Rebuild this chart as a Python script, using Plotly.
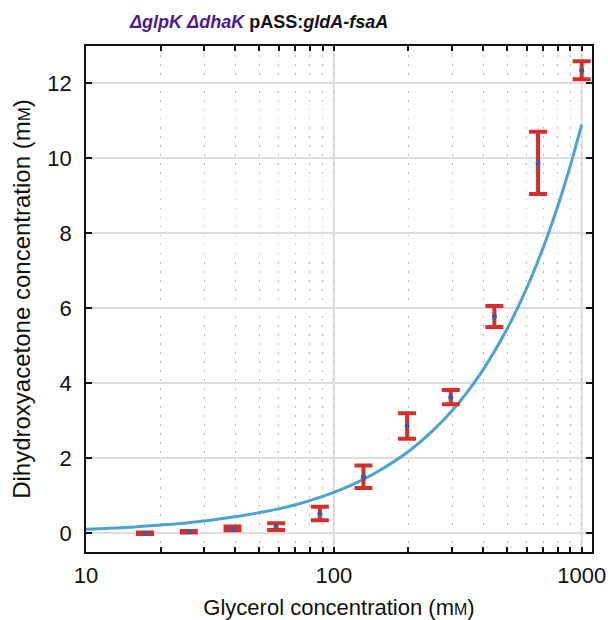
import plotly.graph_objects as go

# Measured data (glycerol mM -> DHA mM)
glycerol = [17.3, 26.0, 39.0, 58.5, 87.8, 131.7, 197.5, 296.3, 444.4, 666.7, 1000.0]
dha_mean = [0.00, 0.04, 0.13, 0.18, 0.53, 1.51, 2.86, 3.63, 5.78, 9.88, 12.35]
dha_err = [0.02, 0.02, 0.05, 0.09, 0.18, 0.30, 0.34, 0.19, 0.28, 0.83, 0.24]

# Model curve
curve_x = [10, 12, 15, 20, 25, 30, 40, 50, 60, 70, 80, 100, 120, 150, 200, 250,
           300, 350, 400, 500, 600, 700, 800, 900, 1000]
curve_y = [0.11, 0.13, 0.16, 0.22, 0.27, 0.33, 0.44, 0.55, 0.65, 0.76, 0.87, 1.09,
           1.31, 1.64, 2.18, 2.73, 3.27, 3.82, 4.36, 5.45, 6.54, 7.63, 8.72, 9.81, 10.9]

x_tickvals = [10, 20, 30, 40, 50, 60, 70, 80, 90, 100, 200, 300, 400, 500, 600,
              700, 800, 900, 1000]
x_major = [10, 100, 1000]
y_tickvals = [0, 2, 4, 6, 8, 10, 12]

FONT = "Liberation Sans, Arial, sans-serif"

fig = go.Figure()

fig.add_trace(go.Scatter(
    x=curve_x, y=curve_y, mode="lines",
    line=dict(color="#4CA3D2", width=3, shape="spline"),
    hoverinfo="skip", showlegend=False,
))

fig.add_trace(go.Scatter(
    x=glycerol, y=dha_mean, mode="markers",
    marker=dict(color="#3B5BA5", size=5),
    error_y=dict(type="data", array=dha_err, visible=True,
                 color="#D32F2F", thickness=4, width=9),
    hoverinfo="skip", showlegend=False,
))

# solid gridlines at major decades
for v in x_major[1:]:
    fig.add_shape(type="line", xref="x", yref="paper", x0=v, x1=v, y0=0, y1=1,
                  line=dict(color="#dddddd", width=2), layer="below")

x_ticktext = [str(v) if v in x_major else "" for v in x_tickvals]

fig.update_layout(
    width=608, height=620,
    margin=dict(l=86, r=16, t=46, b=68),
    paper_bgcolor="white", plot_bgcolor="white",
    font=dict(family=FONT, size=22, color="#111111"),
    xaxis=dict(
        type="log", range=[1.0, 3.0416], automargin=False,
        tickvals=x_tickvals, ticktext=x_ticktext,
        ticks="inside", ticklen=5, tickwidth=1.5, tickcolor="#111111",
        showline=True, linecolor="#111111", linewidth=1.5, mirror="allticks",
        showgrid=True, gridcolor="#b8b8b8", gridwidth=1, griddash="1.5px,7.5px",
        zeroline=False, ticklabelstandoff=3,
        title=dict(text="Glycerol concentration (m<span style='font-size:16px'>M</span>)",
                   font=dict(size=22), standoff=14),
    ),
    yaxis=dict(
        range=[-0.5, 13.0], tickvals=y_tickvals, automargin=False,
        ticks="inside", ticklen=6, tickwidth=1.5, tickcolor="#111111",
        showline=True, linecolor="#111111", linewidth=1.5, mirror="allticks",
        showgrid=True, gridcolor="#dddddd", gridwidth=2,
        zeroline=False, ticklabelstandoff=8,
        title=dict(text="Dihydroxyacetone concentration (m<span style='font-size:17px'>M</span>)",
                   font=dict(size=24), standoff=10),
    ),
    annotations=[dict(
        xref="paper", yref="paper", x=(258.5 - 86) / 506, y=1.0, yshift=24,
        xanchor="center", yanchor="middle", showarrow=False,
        text="<b><span style='color:#4B1C8F'><i>ΔglpK ΔdhaK</i></span> pASS:<i>gldA-fsaA</i></b>",
        font=dict(size=18, family=FONT, color="#111111"),
    )],
)

fig.write_html("out.html", config={"displayModeBar": False},
               post_script="document.body.style.margin='0';document.body.style.overflow='hidden';")
